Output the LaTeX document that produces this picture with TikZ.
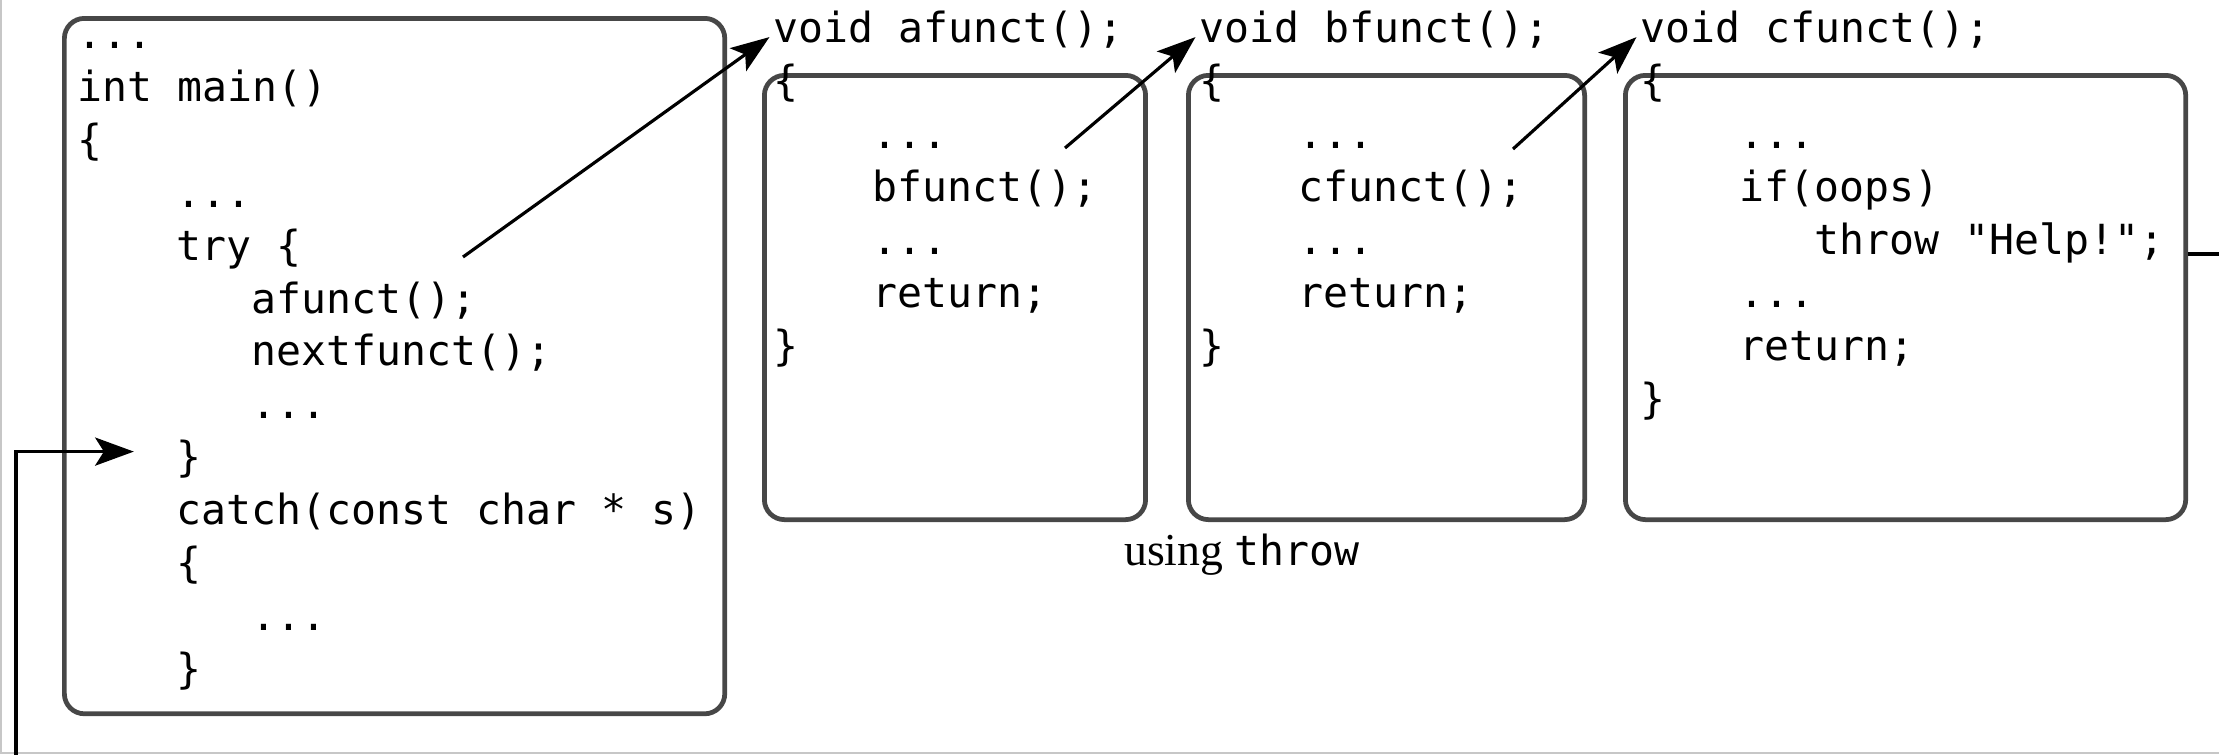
\documentclass[tikz,border=0pt]{standalone}
\usepackage{fontspec}
\setmainfont{Liberation Serif}
\newfontfamily\codefont{DejaVu Sans Mono}
\newcommand\codesize{\fontsize{11.8}{15}\selectfont}
\usetikzlibrary{arrows.meta}
\tikzset{
   codebox/.style={draw=black!72, line width=1.35pt, rounded corners=0.2cm,
           inner sep=0pt, anchor=north west},
   codeline/.style={anchor=base west, inner sep=0pt, font=\codefont\codesize},
   call/.style={-{Stealth[length=11pt,width=8pt,inset=2.5pt]}, line width=0.9pt},
}

\begin{document}
\begin{tikzpicture}[x=0.01cm, y=-0.01cm]
    \useasboundingbox (0,0) rectangle (2219,754);
    \clip (0,0) rectangle (2219,754);
    \draw[black!22, line width=0.6pt] (1,0) -- (1,753) -- (2219,753);

    % the four blocks
    \node[codebox, minimum width=6.6cm, minimum height=6.95cm] (mainbox) at (62,16) {};
    \node[codebox, minimum width=3.81cm, minimum height=4.44cm] (abox) at (762,73) {};
    \node[codebox, minimum width=3.96cm, minimum height=4.44cm] (bbox) at (1186,73) {};
    \node[codebox, minimum width=5.6cm, minimum height=4.44cm] (cbox) at (1623,73) {};

    % main()
    \node[codeline] (m0) at (77,48) {...};
    \node[codeline] (m1) at (77,101) {int main()};
    \node[codeline] (m2) at (77,154) {\{};
    \node[codeline] (m3) at (176,207) {...};
    \node[codeline] (m4) at (176,260) {try \{};
    \node[codeline] (m5) at (251,313) {afunct();};
    \node[codeline] (m6) at (251,365) {nextfunct();};
    \node[codeline] (m7) at (251,418) {...};
    \node[codeline] (m8) at (176,471) {\}};
    \node[codeline] (m9) at (176,524) {catch(const char * s)};
    \node[codeline] (m10) at (176,577) {\{};
    \node[codeline] (m11) at (251,630) {...};
    \node[codeline] (m12) at (176,683) {\}};

    % afunct()
    \node[codeline] (a0) at (773,42) {void afunct();};
    \node[codeline] (a1) at (773,95) {\{};
    \node[codeline] (a2) at (872,148) {...};
    \node[codeline] (a3) at (872,201) {bfunct();};
    \node[codeline] (a4) at (872,254) {...};
    \node[codeline] (a5) at (872,307) {return;};
    \node[codeline] (a6) at (773,360) {\}};

    % bfunct()
    \node[codeline] (b0) at (1199,42) {void bfunct();};
    \node[codeline] (b1) at (1199,95) {\{};
    \node[codeline] (b2) at (1298,148) {...};
    \node[codeline] (b3) at (1298,201) {cfunct();};
    \node[codeline] (b4) at (1298,254) {...};
    \node[codeline] (b5) at (1298,307) {return;};
    \node[codeline] (b6) at (1199,360) {\}};

    % cfunct()
    \node[codeline] (c0) at (1640,42) {void cfunct();};
    \node[codeline] (c1) at (1640,95) {\{};
    \node[codeline] (c2) at (1739,148) {...};
    \node[codeline] (c3) at (1739,201) {if(oops)};
    \node[codeline] (c4) at (1814,254) {throw "Help!";};
    \node[codeline] (c5) at (1739,307) {...};
    \node[codeline] (c6) at (1739,360) {return;};
    \node[codeline] (c7) at (1640,413) {\}};

    \node[anchor=base, inner sep=0pt] (caption) at (1242,565)
        {\fontsize{13}{15}\selectfont using {\codefont\codesize throw}};

    % calls
    \coordinate (acall) at (463,257);
    \coordinate (bcall) at (1065,148);
    \coordinate (ccall) at (1513,149);
    \draw[call] (acall) -- ([xshift=-1pt,yshift=1.4pt]a0.base west);
    \draw[call] (bcall) -- ([xshift=-1pt,yshift=1.4pt]b0.base west);
    \draw[call] (ccall) -- ([xshift=-1pt,yshift=1.4pt]c0.base west);

    % the throw comes back to the catch
    \draw[call] (c4.base -| cbox.east) -- ++(80,0) |- (16,800)
        |- ([xshift=-12pt,yshift=2pt]m8.west);

  \end{tikzpicture}
\end{document}
